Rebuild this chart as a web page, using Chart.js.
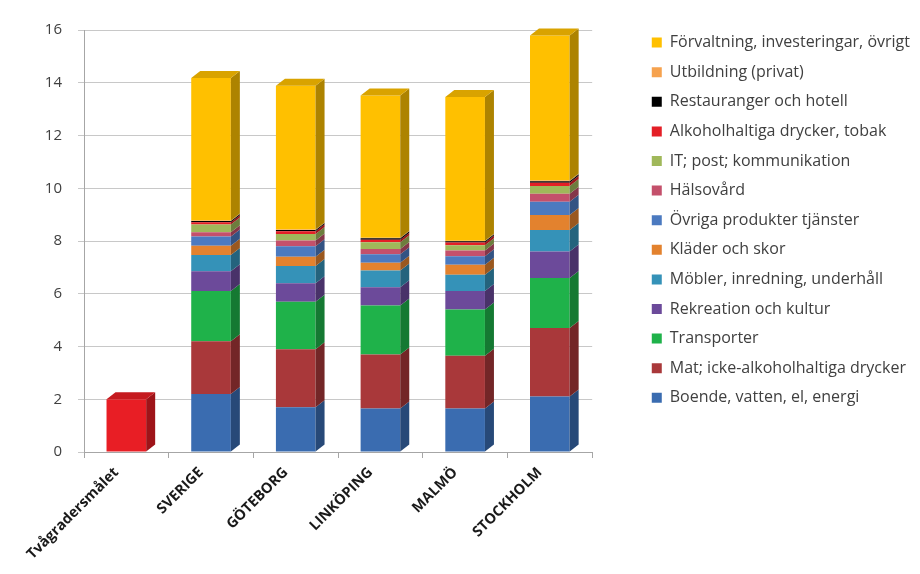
<!DOCTYPE html>
<html>
<head>
<meta charset="utf-8">
<script src="https://cdn.jsdelivr.net/npm/chart.js@4"></script>
<style>
  html, body { margin: 0; padding: 0; background: #fff; }
  #wrap { width: 920px; height: 574px; }
</style>
</head>
<body>
<div id="wrap"><canvas id="chart" width="920" height="574"></canvas></div>
<script>
const categories = ["Tvågradersmålet", "SVERIGE", "GÖTEBORG", "LINKÖPING", "MALMÖ", "STOCKHOLM"];

const tvagrader    = [2.0, null, null, null, null, null];
const boende       = [null, 2.2, 1.7, 1.65, 1.65, 2.1];
const mat          = [null, 2.0, 2.2, 2.05, 2.0, 2.6];
const transporter  = [null, 1.9, 1.8, 1.85, 1.75, 1.9];
const rekreation   = [null, 0.75, 0.7, 0.7, 0.7, 1.0];
const mobler       = [null, 0.62, 0.65, 0.63, 0.62, 0.82];
const klader       = [null, 0.35, 0.35, 0.3, 0.38, 0.57];
const ovriga       = [null, 0.35, 0.4, 0.32, 0.32, 0.5];
const halsovard    = [null, 0.16, 0.22, 0.2, 0.22, 0.3];
const itpost       = [null, 0.3, 0.25, 0.25, 0.2, 0.3];
const alkohol      = [null, 0.08, 0.1, 0.1, 0.1, 0.12];
const restauranger = [null, 0.05, 0.05, 0.05, 0.05, 0.06];
const utbildning   = [null, 0.02, 0.02, 0.02, 0.02, 0.02];
const forvaltning  = [null, 5.4, 5.45, 5.4, 5.45, 5.5];

const yTicks = [0, 2, 4, 6, 8, 10, 12, 14, 16];

function shade(hex, f) {
  const n = parseInt(hex.slice(1), 16);
  const r = Math.round(((n >> 16) & 255) * f);
  const g = Math.round(((n >> 8) & 255) * f);
  const b = Math.round((n & 255) * f);
  return "rgb(" + r + "," + g + "," + b + ")";
}

function ds(label, data, color) {
  return { label: label, data: data, backgroundColor: color, borderWidth: 0, stack: "s" };
}

// fake depth: side and top faces drawn from the bar elements
const depth3d = {
  id: "depth3d",
  afterDatasetsDraw(chart) {
    const ctx = chart.ctx;
    const dx = 9, dy = 7;
    const topBar = [];
    chart.data.datasets.forEach((d, i) => {
      const meta = chart.getDatasetMeta(i);
      meta.data.forEach((bar, j) => {
        if (d.data[j] == null) return;
        const p = bar.getProps(["x", "y", "base", "width"], true);
        const r = p.x + p.width / 2;
        ctx.save();
        ctx.fillStyle = shade(d.backgroundColor, 0.68);
        ctx.beginPath();
        ctx.moveTo(r, p.y);
        ctx.lineTo(r + dx, p.y - dy);
        ctx.lineTo(r + dx, p.base - dy);
        ctx.lineTo(r, p.base);
        ctx.closePath();
        ctx.fill();
        ctx.restore();
        topBar[j] = { p: p, color: d.backgroundColor };
      });
    });
    topBar.forEach(t => {
      if (!t) return;
      const p = t.p;
      const l = p.x - p.width / 2, r = p.x + p.width / 2;
      ctx.save();
      ctx.fillStyle = shade(t.color, 0.85);
      ctx.beginPath();
      ctx.moveTo(l, p.y);
      ctx.lineTo(l + dx, p.y - dy);
      ctx.lineTo(r + dx, p.y - dy);
      ctx.lineTo(r, p.y);
      ctx.closePath();
      ctx.fill();
      ctx.restore();
    });
  }
};

new Chart(document.getElementById("chart"), {
  type: "bar",
  data: {
    labels: categories,
    datasets: [
      ds("Tvågradersmålet", tvagrader, "#e81e25"),
      ds("Boende, vatten, el, energi", boende, "#3a6cb0"),
      ds("Mat; icke-alkoholhaltiga drycker", mat, "#a9383a"),
      ds("Transporter", transporter, "#1fb24a"),
      ds("Rekreation och kultur", rekreation, "#6c4a9a"),
      ds("Möbler, inredning, underhåll", mobler, "#3592b8"),
      ds("Kläder och skor", klader, "#e3822e"),
      ds("Övriga produkter tjänster", ovriga, "#4b7ac0"),
      ds("Hälsovård", halsovard, "#c4506b"),
      ds("IT; post; kommunikation", itpost, "#a0b85a"),
      ds("Alkoholhaltiga drycker, tobak", alkohol, "#e41f26"),
      ds("Restauranger och hotell", restauranger, "#000000"),
      ds("Utbildning (privat)", utbildning, "#f6a24e"),
      ds("Förvaltning, investeringar, övrigt", forvaltning, "#ffc000")
    ]
  },
  options: {
    responsive: false,
    animation: false,
    layout: { padding: { top: 21, right: 0, bottom: 0, left: 0 } },
    datasets: { bar: { barPercentage: 0.9, categoryPercentage: 0.52 } },
    plugins: {
      tooltip: { enabled: false },
      legend: {
        position: "right",
        align: "start",
        reverse: true,
        maxWidth: 320,
        labels: {
          filter: item => item.text !== "Tvågradersmålet",
          boxWidth: 10,
          boxHeight: 10,
          padding: 13.6,
          color: "#404040",
          font: { family: "Open Sans", size: 16 }
        }
      }
    },
    scales: {
      x: {
        stacked: true,
        offset: true,
        grid: { offset: true, drawOnChartArea: false, drawTicks: true, tickLength: 6, color: "#a6a6a6" },
        border: { color: "#a6a6a6" },
        ticks: {
          minRotation: 45, maxRotation: 45, padding: 6, labelOffset: -10,
          color: "#1a1a1a",
          font: { family: "Open Sans", size: 14.5, weight: "bold" }
        },
        afterFit(s) { s.height = 122; }
      },
      x2: {
        type: "linear",
        position: "top",
        display: true,
        grid: { display: false },
        border: { display: false },
        ticks: { display: false },
        afterFit(s) { s.height = 9; }
      },
      y: {
        stacked: true,
        min: 0,
        max: 16,
        afterBuildTicks(s) { s.ticks = yTicks.map(v => ({ value: v })); },
        grid: { color: "#c8c8c8", tickLength: 6, drawTicks: true },
        border: { color: "#a6a6a6" },
        ticks: {
          padding: 16,
          color: "#404040",
          font: { family: "Open Sans", size: 15 }
        },
        afterFit(s) { s.width = 84; }
      },
      y2: {
        type: "linear",
        position: "right",
        display: true,
        grid: { display: false },
        border: { display: false },
        ticks: { display: false },
        afterFit(s) { s.width = 46; }
      }
    }
  },
  plugins: [depth3d]
});
</script>
</body>
</html>
